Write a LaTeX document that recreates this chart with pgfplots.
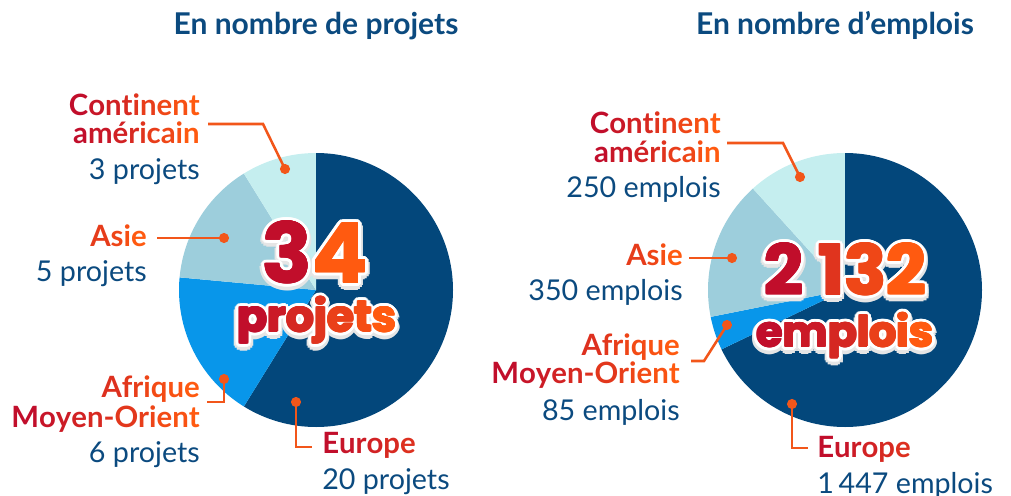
\documentclass[border=0pt]{standalone}
\usepackage{pgfplots}
\pgfplotsset{compat=1.18}
\usepackage{pgfplotstable}
\usepackage{fontspec}
\setmainfont{Lato}
\newfontfamily\bigfont{Poppins}

\definecolor{cEur}{HTML}{03477B}
\definecolor{cAfr}{HTML}{0896EA}
\definecolor{cAsi}{HTML}{9DCEDC}
\definecolor{cAme}{HTML}{C5EEEF}
\definecolor{tblue}{HTML}{0B4A7F}
\definecolor{gred}{HTML}{C10E2B}
\definecolor{gorg}{HTML}{FF5A10}
\definecolor{lead}{HTML}{F2561A}

\pgfplotstableread{
region val
Europe 20
Afrique 6
Asie 5
Amerique 3
}\projets
\pgfplotstableread{
region val
Europe 1447
Afrique 85
Asie 350
Amerique 250
}\emplois

\newcommand\piecalc[2]{%
  \gdef\pietot{0}%
  \foreach \i in {0,...,3}{%
    \pgfplotstablegetelem{\i}{val}\of#1%
    \pgfmathsetmacro\tmp{\pietot+\pgfplotsretval}%
    \global\let\pietot\tmp}%
  \gdef\pieang{90}%
  \foreach \i in {0,...,3}{%
    \pgfplotstablegetelem{\i}{val}\of#1%
    \pgfmathsetmacro\tmp{\pieang-\pgfplotsretval/\pietot*360}%
    \expandafter\xdef\csname #2s\i\endcsname{\pieang}%
    \expandafter\xdef\csname #2e\i\endcsname{\tmp}%
    \global\let\pieang\tmp}%
}
\piecalc{\projets}{L}
\piecalc{\emplois}{R}

\newcommand\pieslice[5]{%
  \edef\slicecmd{\noexpand\fill[#5] (axis cs:#1,#2) -- ++(\csname #3s#4\endcsname:102.75pt) arc[start angle=\csname #3s#4\endcsname, end angle=\csname #3e#4\endcsname, radius=102.75pt] -- cycle;}%
  \slicecmd}

% gradient text
\newif\ifgsolid
\def\gsolidcolor{white}
\newcount\gN \newcount\gI
\def\gstop{\gstop}
\def\gcount#1{\ifx#1\gstop\else\global\advance\gN by 1\relax\expandafter\gcount\fi}
\def\gdo#1{\ifx#1\gstop\else\gpaint{#1}\expandafter\gdo\fi}
\def\gpaint#1{\ifgsolid\textcolor{\gsolidcolor}{#1}\else\pgfmathtruncatemacro\gp{\gA+(\gB-\gA)*\the\gI/max(\the\gN-1,1)}\textcolor{gorg!\gp!gred}{#1}\fi\global\advance\gI by 1\relax}
\newcommand\grad[3]{\global\gN=0\relax\gcount#3\gstop\global\gI=0\relax\def\gA{#1}\def\gB{#2}\gdo#3\gstop}

\newcommand\bigtxt[3]{%
  \foreach \a in {0,30,...,330}{\node[anchor=base,inner sep=0] at ([shift={(\a:4.2pt)},yshift=-1.6pt]#1) {\bigfont\bfseries\fontsize{#2}{#2}\selectfont\gsolidtrue\def\gsolidcolor{black!10}\grad{0}{100}{#3}};}
  \foreach \a in {0,22.5,...,337.5}{\node[anchor=base,inner sep=0] at ([shift={(\a:2.9pt)}]#1) {\bigfont\bfseries\fontsize{#2}{#2}\selectfont\gsolidtrue\grad{0}{100}{#3}};}
  \foreach \a in {0,45,...,315}{\node[anchor=base,inner sep=0] at ([shift={(\a:0.7pt)}]#1) {\bigfont\bfseries\fontsize{#2}{#2}\selectfont\grad{0}{100}{#3}};}
  \node[anchor=base,inner sep=0] at (#1) {\bigfont\bfseries\fontsize{#2}{#2}\selectfont\grad{0}{100}{#3}};}

\tikzset{
  bl/.style={inner sep=0, font={\bfseries\fontsize{22pt}{26pt}\selectfont}},
  rl/.style={inner sep=0, text=tblue, font={\fontsize{21.5pt}{26pt}\selectfont}},
  ld/.style={draw=lead, line width=1.9pt},
}

\begin{document}
\begin{tikzpicture}
\begin{axis}[
  at={(0,0)}, anchor=south west,
  width=758.25pt, height=372pt, scale only axis,
  xmin=0, xmax=1011, ymin=0, ymax=496, y dir=reverse,
  hide axis, clip=false]
% pies
\pieslice{316}{290}{L}{0}{cEur}
\pieslice{316}{290}{L}{1}{cAfr}
\pieslice{316}{290}{L}{2}{cAsi}
\pieslice{316}{290}{L}{3}{cAme}
\pieslice{845}{290}{R}{0}{cEur}
\pieslice{845}{290}{R}{1}{cAfr}
\pieslice{845}{290}{R}{2}{cAsi}
\pieslice{845}{290}{R}{3}{cAme}
% titles
\node[anchor=base, inner sep=0, text=tblue, font={\bfseries\fontsize{22.5pt}{26pt}\selectfont}] at (axis cs:316,35) {En nombre de projets};
\node[anchor=base, inner sep=0, text=tblue, font={\bfseries\fontsize{22.5pt}{26pt}\selectfont}] at (axis cs:835,35) {En nombre d’emplois};
% leaders left
\draw[ld] (axis cs:208,124) -- (axis cs:263,124) -- (axis cs:285,169);
\fill[lead] (axis cs:285,169) circle[radius=3.8pt];
\draw[ld] (axis cs:157,238) -- (axis cs:224,238);
\fill[lead] (axis cs:224,238) circle[radius=3.8pt];
\draw[ld] (axis cs:207,402) -- (axis cs:224,402) -- (axis cs:224,379);
\fill[lead] (axis cs:224,379) circle[radius=3.8pt];
\draw[ld] (axis cs:296,402) -- (axis cs:296,447) -- (axis cs:312,447);
\fill[lead] (axis cs:296,402) circle[radius=3.8pt];
% leaders right
\draw[ld] (axis cs:727,143) -- (axis cs:783,143) -- (axis cs:800,177);
\fill[lead] (axis cs:800,177) circle[radius=3.8pt];
\draw[ld] (axis cs:689,258) -- (axis cs:732,258);
\fill[lead] (axis cs:732,258) circle[radius=3.8pt];
\draw[ld] (axis cs:691,361) -- (axis cs:704,361) -- (axis cs:727,325);
\fill[lead] (axis cs:727,325) circle[radius=3.8pt];
\draw[ld] (axis cs:792,404) -- (axis cs:792,448) -- (axis cs:808,448);
\fill[lead] (axis cs:792,404) circle[radius=3.8pt];
% labels left
\node[bl, anchor=base east] at (axis cs:200,115) {\grad{0}{100}{Continent}};
\node[bl, anchor=base east] at (axis cs:200,143) {\grad{0}{100}{américain}};
\node[rl, anchor=base east] at (axis cs:200,179) {3 projets};
\node[bl, anchor=base east] at (axis cs:147,246) {\grad{60}{100}{Asie}};
\node[rl, anchor=base east] at (axis cs:147,281) {5 projets};
\node[bl, anchor=base east] at (axis cs:200,397) {\grad{45}{100}{Afrique}};
\node[bl, anchor=base east] at (axis cs:200,427) {\grad{0}{100}{Moyen-Orient}};
\node[rl, anchor=base east] at (axis cs:200,462) {6 projets};
\node[bl, anchor=base west] at (axis cs:322,453) {\grad{0}{45}{Europe}};
\node[rl, anchor=base west] at (axis cs:322,489) {20 projets};
% labels right
\node[bl, anchor=base east] at (axis cs:721,133) {\grad{0}{100}{Continent}};
\node[bl, anchor=base east] at (axis cs:721,162) {\grad{0}{100}{américain}};
\node[rl, anchor=base east] at (axis cs:721,197) {250 emplois};
\node[bl, anchor=base east] at (axis cs:683,265) {\grad{60}{100}{Asie}};
\node[rl, anchor=base east] at (axis cs:683,300) {350 emplois};
\node[bl, anchor=base east] at (axis cs:680,355) {\grad{45}{100}{Afrique}};
\node[bl, anchor=base east] at (axis cs:680,383) {\grad{0}{100}{Moyen-Orient}};
\node[rl, anchor=base east] at (axis cs:680,420) {85 emplois};
\node[bl, anchor=base west] at (axis cs:817,457) {\grad{0}{45}{Europe}};
\node[rl, anchor=base west] at (axis cs:817,493) {1\,447 emplois};
% anchors for big numbers
\coordinate (cA) at (axis cs:315,283);
\coordinate (cB) at (axis cs:317,332);
\coordinate (cC) at (axis cs:845,295);
\coordinate (cD) at (axis cs:845,347);
\end{axis}
\bigtxt{cA}{62pt}{34}
\bigtxt{cB}{33pt}{projets}
\bigtxt{cC}{52pt}{2~132}
\bigtxt{cD}{32pt}{emplois}
\pgfresetboundingbox
\path (0,0) rectangle (758.25pt,372pt);
\end{tikzpicture}
\end{document}
